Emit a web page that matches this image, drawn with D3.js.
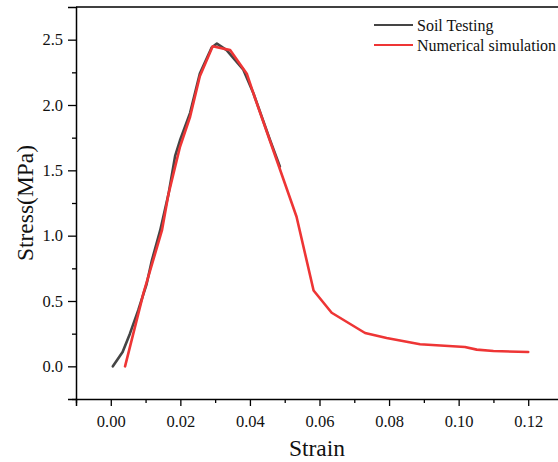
<!DOCTYPE html>
<html>
<head>
<meta charset="utf-8">
<script src="https://cdn.jsdelivr.net/npm/d3@7"></script>
<style>
  body { margin: 0; background: #fff; }
  svg { display: block; overflow: hidden; }
  svg text { font-family: 'Liberation Serif', 'Times New Roman', serif; }
</style>
</head>
<body>
<div id="chart"></div>
<script>
// Soil Testing (grey curve)
const soilStrain = [0.0006, 0.0034, 0.0055, 0.0079, 0.0103, 0.0118, 0.0142, 0.0166, 0.0185, 0.0199, 0.0228, 0.0256, 0.0290, 0.0305, 0.0333, 0.0352, 0.0381, 0.0410, 0.0458, 0.0486];
const soilStress = [0, 0.11, 0.25, 0.43, 0.63, 0.81, 1.04, 1.32, 1.61, 1.73, 1.94, 2.24, 2.44, 2.47, 2.42, 2.36, 2.27, 2.09, 1.73, 1.53];

// Numerical simulation (red curve)
const numStrain = [0.0041, 0.0094, 0.0147, 0.0166, 0.0199, 0.0228, 0.0256, 0.0293, 0.0343, 0.0391, 0.0415, 0.0534, 0.0583, 0.0635, 0.0731, 0.0793, 0.0889, 0.1018, 0.1052, 0.1100, 0.1200];
const numStress = [0, 0.56, 1.04, 1.32, 1.68, 1.91, 2.22, 2.45, 2.42, 2.24, 2.05, 1.145, 0.58, 0.41, 0.255, 0.217, 0.169, 0.148, 0.128, 0.117, 0.11];

const xMajor = [0, 0.02, 0.04, 0.06, 0.08, 0.10, 0.12];
const xMinor = [-0.01, 0.01, 0.03, 0.05, 0.07, 0.09, 0.11];
const yMajor = [0, 0.5, 1.0, 1.5, 2.0, 2.5];
const yMinor = [-0.25, 0.25, 0.75, 1.25, 1.75, 2.25];

const seriesNames = ["Soil Testing", "Numerical simulation"];
const seriesColors = ["#454545", "#ee3535"];

const W = 558, H = 462;
const font = "'Liberation Serif', 'Times New Roman', serif";

const svg = d3.select("#chart").append("svg")
    .attr("width", W)
    .attr("height", H);

const x = d3.scaleLinear().domain([-0.01, 0.13]).range([76, 563]);
const y = d3.scaleLinear().domain([-0.25, 2.75]).range([399, 7]);

// frame top line
svg.append("line")
    .attr("x1", x(-0.01)).attr("x2", x(0.13))
    .attr("y1", y(2.75)).attr("y2", y(2.75))
    .attr("stroke", "#000").attr("stroke-width", 1.5);

// x axis
svg.append("g")
    .attr("transform", `translate(0,${y(-0.25)})`)
    .call(d3.axisBottom(x).tickValues(xMajor).tickSize(7).tickPadding(9).tickFormat(d3.format(".2f")))
    .attr("font-family", font);
svg.append("g")
    .attr("transform", `translate(0,${y(-0.25)})`)
    .call(d3.axisBottom(x).tickValues(xMinor).tickSize(4).tickFormat(""))
    .call(g => g.select(".domain").remove());

// y axis
svg.append("g")
    .attr("transform", `translate(${x(-0.01)},0)`)
    .call(d3.axisLeft(y).tickValues(yMajor).tickSize(8).tickPadding(5).tickFormat(d3.format(".1f")))
    .attr("font-family", font);
svg.append("g")
    .attr("transform", `translate(${x(-0.01)},0)`)
    .call(d3.axisLeft(y).tickValues(yMinor).tickSize(4).tickFormat(""))
    .call(g => g.select(".domain").remove());

svg.selectAll(".domain").attr("stroke-width", 1.5);
svg.selectAll(".tick line").attr("stroke-width", 1.3);
svg.selectAll(".tick text")
    .attr("font-family", font)
    .attr("font-size", 16.5)
    .attr("fill", "#111");

// axis titles
svg.append("text")
    .attr("x", 317).attr("y", 456)
    .attr("text-anchor", "middle")
    .attr("font-family", font).attr("font-size", 23.5)
    .attr("fill", "#111")
    .text("Strain");

svg.append("text")
    .attr("transform", "translate(33,203) rotate(-90)")
    .attr("text-anchor", "middle")
    .attr("font-family", font).attr("font-size", 23.5)
    .attr("fill", "#111")
    .text("Stress(MPa)");

// curves
const line = d3.line().x(d => x(d[0])).y(d => y(d[1]));
const series = [
    d3.zip(soilStrain, soilStress),
    d3.zip(numStrain, numStress)
];

series.forEach((pts, i) => {
    svg.append("path")
        .attr("d", line(pts))
        .attr("fill", "none")
        .attr("stroke", seriesColors[i])
        .attr("stroke-width", 2.6)
        .attr("stroke-linejoin", "round")
        .attr("stroke-linecap", "round");
});

// legend
const legend = svg.append("g");
seriesNames.forEach((name, i) => {
    const ly = 25 + i * 20;
    legend.append("line")
        .attr("x1", 374).attr("x2", 413)
        .attr("y1", ly).attr("y2", ly)
        .attr("stroke", seriesColors[i])
        .attr("stroke-width", 2.2);
    legend.append("text")
        .attr("x", 417).attr("y", ly + 6)
        .attr("font-family", font).attr("font-size", 16)
        .attr("fill", "#111")
        .text(name);
});
</script>
</body>
</html>
